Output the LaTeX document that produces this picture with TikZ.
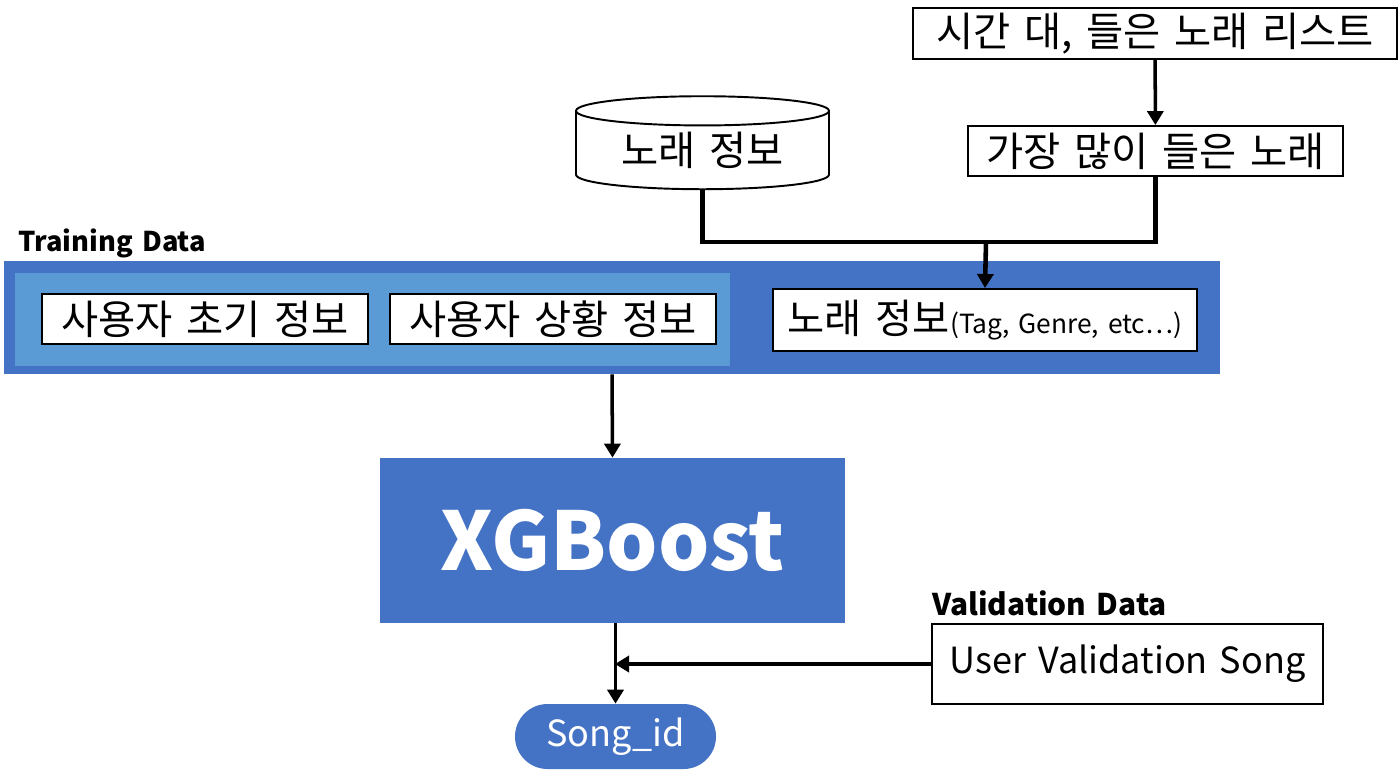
\documentclass[tikz,border=0pt]{standalone}
\usepackage{fontspec}
\setmainfont{Noto Sans CJK KR}[WordSpace=1.5]
\usepackage{tikz}
\usetikzlibrary{arrows.meta,positioning,shapes.geometric}
\definecolor{xgblue}{RGB}{68,114,196}
\definecolor{lightblue}{RGB}{91,155,213}

\begin{document}
\begin{tikzpicture}[
  box/.style={draw, line width=1.1pt, fill=white, inner sep=0pt, font=\fontsize{23}{26}\selectfont},
  band/.style={inner sep=0pt, minimum width=#1},
  tag/.style={font=\bfseries\fontsize{15.5}{18}\selectfont, anchor=west, inner sep=0pt},
  arr/.style={-{Triangle[width=0.32cm,length=0.28cm]}, line width=2pt},
  link/.style={line width=2.8pt}
]
\useasboundingbox (0,0) rectangle (27.98,-15.66);
% inputs on top
\node[box, minimum width=9.68cm, minimum height=1.02cm] (list) at (23.10,-0.67) {시간 대, 들은 노래 리스트};
\node[box, minimum width=7.5cm, minimum height=1.0cm] (top) at (23.11,-3.02) {가장 많이 들은 노래};
\node[box, cylinder, shape border rotate=90, aspect=0.18, minimum width=5.06cm, minimum height=1.86cm] (songdb) at (14.05,-3.01) {노래 정보};
% training data
\node[tag] (trainlbl) at (0.36,-4.86) {Training Data};
\node[band=24.32cm, fill=xgblue, minimum height=2.26cm] (train) at (12.24,-6.35) {};
\node[band=14.30cm, fill=lightblue, minimum height=1.86cm] (user) at (7.45,-6.39) {};
\node[box, minimum width=6.52cm, minimum height=1.0cm] (init) at (4.10,-6.38) {사용자 초기 정보};
\node[box, minimum width=6.52cm, minimum height=1.0cm] (ctx) at (11.06,-6.38) {사용자 상황 정보};
\node[box, minimum width=8.48cm, minimum height=1.24cm] (songinfo) at (19.70,-6.40) {노래 정보{\fontsize{15}{17}\selectfont(Tag, Genre, etc…)}};
% model and output
\node[band=9.30cm, fill=xgblue, minimum height=3.30cm, text=white, font=\bfseries\fontsize{46}{50}\selectfont] (xgb) at (12.25,-10.81) {XGBoost};
\node[band=4.02cm, fill=xgblue, minimum height=1.30cm, rounded corners=0.65cm, text=white, font=\fontsize{20.5}{24}\selectfont] (songid) at (12.31,-14.73) {Song\_id};
% validation data
\node[tag, font=\bfseries\fontsize{17}{20}\selectfont] (validlbl) at (18.64,-12.06) {Validation Data};
\node[box, minimum width=7.82cm, minimum height=1.60cm, font=\fontsize{20.5}{24}\selectfont] (valid) at (22.55,-13.28) {User Validation Song};
\coordinate (join) at (19.72,-4.84);
\coordinate (hit) at (12.30,-13.28);

\draw[arr] (list) -- (top);
\draw[link] (songdb.south) |- (join) -| (top.south);
\draw[arr, line width=2.6pt] (join) -- (songinfo.north);
\draw[arr] (train.south) -- (xgb.north);
\draw[arr] (xgb.south -| songid) -- (songid.north);
\draw[arr] (valid.west) -- (hit);
\end{tikzpicture}
\end{document}
